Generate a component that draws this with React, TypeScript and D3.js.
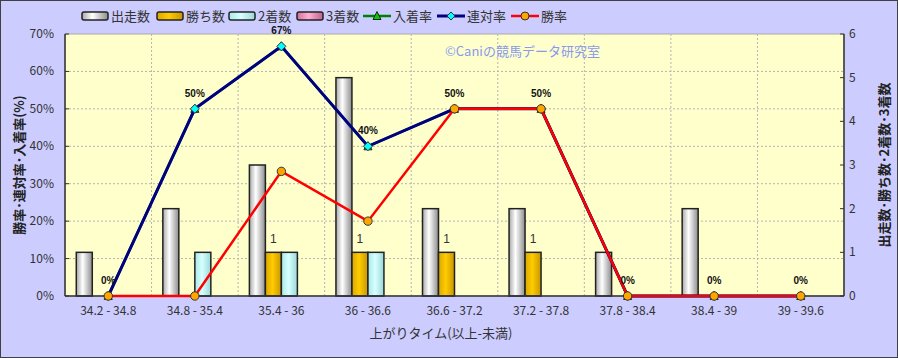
import React from "react";
import * as d3 from "d3";

const categories = ["34.2 - 34.8", "34.8 - 35.4", "35.4 - 36", "36 - 36.6", "36.6 - 37.2", "37.2 - 37.8", "37.8 - 38.4", "38.4 - 39", "39 - 39.6"];
const starts = [1, 2, 3, 5, 2, 2, 1, 2, 0];
const wins = [0, 0, 1, 1, 1, 1, 0, 0, 0];
const seconds = [0, 1, 1, 1, 0, 0, 0, 0, 0];
const thirds = [0, 0, 0, 0, 0, 0, 0, 0, 0];
const placeRate = [0, 50, 66.7, 40, 50, 50, 0, 0, 0];
const quinellaRate = [0, 50, 66.7, 40, 50, 50, 0, 0, 0];
const winRate = [0, 0, 33.3, 20, 50, 50, 0, 0, 0];
const leftTicks = [0, 10, 20, 30, 40, 50, 60, 70];
const rightTicks = [0, 1, 2, 3, 4, 5, 6];

const W = 898, H = 358;
const L = 65, R = 844, T = 34, B = 296;
const FONT = "'Noto Sans CJK JP', 'Liberation Sans', sans-serif";
const TXT = "#333";

const barSeries = [
  { key: "出走数", values: starts, grad: "gGray" },
  { key: "勝ち数", values: wins, grad: "gGold" },
  { key: "2着数", values: seconds, grad: "gCyan" },
  { key: "3着数", values: thirds, grad: "gPink" },
];

export default function App() {
  const x = d3.scaleBand<string>().domain(categories).range([L, R]).padding(0);
  const bw = x.bandwidth();
  const xs = d3.scaleBand<string>().domain(barSeries.map((s) => s.key)).range([bw / 2 - 32, bw / 2 + 32]).padding(0);
  const yL = d3.scaleLinear().domain([0, 70]).range([B, T]);
  const yR = d3.scaleLinear().domain([0, 6]).range([B, T]);
  const cx = (i: number) => (x(categories[i]) as number) + bw / 2;
  const line = (vals: number[]) =>
    d3.line<number>().x((_, i) => cx(i)).y((v) => yL(v))(vals) as string;

  const diamond = (px: number, py: number) => `M${px},${py - 4.5}L${px + 4.5},${py}L${px},${py + 4.5}L${px - 4.5},${py}Z`;
  const tri = (px: number, py: number) => `M${px},${py - 4.5}L${px + 4},${py + 3.5}L${px - 4},${py + 3.5}Z`;

  const legendBars = [
    { key: "出走数", grad: "gGray", x: 82 },
    { key: "勝ち数", grad: "gGold", x: 157 },
    { key: "2着数", grad: "gCyan", x: 229 },
    { key: "3着数", grad: "gPink", x: 297 },
  ];
  const ly = 16;

  return (
    <svg width={W} height={H} style={{ position: "fixed", left: 0, top: 0 }} fontFamily={FONT}>
      <defs>
        <linearGradient id="gGray" x1="0" x2="1" y1="0" y2="0">
          <stop offset="0" stopColor="#a8a8a8" />
          <stop offset="0.4" stopColor="#ffffff" />
          <stop offset="1" stopColor="#8c8c8c" />
        </linearGradient>
        <linearGradient id="gGold" x1="0" x2="1" y1="0" y2="0">
          <stop offset="0" stopColor="#d9a800" />
          <stop offset="0.45" stopColor="#ffcc00" />
          <stop offset="1" stopColor="#c89600" />
        </linearGradient>
        <linearGradient id="gCyan" x1="0" x2="1" y1="0" y2="0">
          <stop offset="0" stopColor="#a8e8e8" />
          <stop offset="0.45" stopColor="#d8ffff" />
          <stop offset="1" stopColor="#9ad8d8" />
        </linearGradient>
        <linearGradient id="gPink" x1="0" x2="1" y1="0" y2="0">
          <stop offset="0" stopColor="#d070a0" />
          <stop offset="0.45" stopColor="#ffb0d0" />
          <stop offset="1" stopColor="#c06090" />
        </linearGradient>
      </defs>
      <rect x={0.5} y={0.5} width={W - 1} height={H - 1} fill="#ccccff" stroke="#404040" strokeWidth={1} />
      <rect x={L} y={T} width={R - L} height={B - T} fill="#ffffcc" stroke="#aaa" strokeWidth={1} />

      {/* horizontal grid */}
      {leftTicks.filter((t) => t > 0 && t < 70).map((t) => (
        <line key={"h" + t} x1={L} x2={R} y1={yL(t)} y2={yL(t)} stroke="#b4b4b4" strokeDasharray="2,2" strokeWidth={1} />
      ))}
      {/* vertical grid */}
      {categories.slice(1).map((c) => (
        <line key={"v" + c} x1={x(c) as number} x2={x(c) as number} y1={T} y2={B} stroke="#b4b4b4" strokeDasharray="2,2" strokeWidth={1} />
      ))}

      {/* watermark */}
      <text x={445} y={56} fontSize={13} fill="#8899ee">©Caniの競馬データ研究室</text>

      {/* bars */}
      {barSeries.map((s) =>
        s.values.map((v, i) =>
          v > 0 ? (
            <rect key={s.key + i} x={(x(categories[i]) as number) + (xs(s.key) as number)} y={yR(v)} width={xs.bandwidth()} height={B - yR(v)} fill={`url(#${s.grad})`} stroke="#222" strokeWidth={1.5} />
          ) : null
        )
      )}
      {/* win count labels */}
      {wins.map((v, i) =>
        v > 0 ? (
          <text key={"wl" + i} x={(x(categories[i]) as number) + (xs("勝ち数") as number) + xs.bandwidth() / 2} y={yR(v) - 9} fontSize={12} fill={TXT} textAnchor="middle" fontFamily="'Liberation Sans', sans-serif">{v}</text>
        ) : null
      )}

      {/* axes */}
      <line x1={L} x2={L} y1={T} y2={B} stroke="#333" strokeWidth={1.5} />
      <line x1={R} x2={R} y1={T} y2={B} stroke="#333" strokeWidth={1.5} />
      <line x1={L} x2={R} y1={B} y2={B} stroke="#333" strokeWidth={1.5} />
      {leftTicks.map((t) => (
        <g key={"lt" + t}>
          <line x1={L} x2={L + 4} y1={yL(t)} y2={yL(t)} stroke="#333" />
          <text x={54} y={yL(t) + 4} fontSize={12} fill={TXT} textAnchor="end">{t}%</text>
        </g>
      ))}
      {rightTicks.map((t) => (
        <g key={"rt" + t}>
          <line x1={R - 4} x2={R} y1={yR(t)} y2={yR(t)} stroke="#333" />
          <text x={849} y={yR(t) + 4} fontSize={12} fill={TXT}>{t}</text>
        </g>
      ))}
      {categories.map((c, i) => (
        <text key={"xl" + c} x={cx(i)} y={315} fontSize={12} fill={TXT} textAnchor="middle">{c}</text>
      ))}

      {/* lines */}
      <path d={line(placeRate)} fill="none" stroke="#008000" strokeWidth={2.5} />
      {placeRate.map((v, i) => (
        <path key={"pm" + i} d={tri(cx(i), yL(v))} fill="#00cc00" stroke="#222" strokeWidth={1} />
      ))}
      <path d={line(quinellaRate)} fill="none" stroke="#000080" strokeWidth={3} />
      {quinellaRate.map((v, i) => (
        <path key={"qm" + i} d={diamond(cx(i), yL(v))} fill="#00ffff" stroke="#333" strokeWidth={1} />
      ))}
      <path d={line(winRate)} fill="none" stroke="#ff0000" strokeWidth={2.5} />
      {winRate.map((v, i) => (
        <circle key={"wm" + i} cx={cx(i)} cy={yL(v)} r={4.2} fill="#ffa500" stroke="#333" strokeWidth={1} />
      ))}
      {quinellaRate.map((v, i) => (
        <text key={"ql" + i} x={cx(i)} y={yL(v) - 12} fontSize={10} fontWeight="bold" fill="#111" textAnchor="middle" fontFamily="'Liberation Sans', sans-serif">{Math.round(v)}%</text>
      ))}

      {/* axis titles */}
      <text transform={`translate(24,${(T + B) / 2}) rotate(-90)`} fontSize={13} fontWeight="bold" fill="#222" textAnchor="middle">勝率･連対率･入着率(%)</text>
      <text transform={`translate(889,${(T + B) / 2}) rotate(-90)`} fontSize={13} fontWeight="bold" fill="#222" textAnchor="middle">出走数･勝ち数･2着数･3着数</text>
      <text x={441} y={338} fontSize={13} fill={TXT} textAnchor="middle">上がりタイム(以上-未満)</text>

      {/* legend */}
      {legendBars.map((lb) => (
        <g key={"lg" + lb.key}>
          <rect x={lb.x} y={ly - 4} width={26} height={8} rx={2} fill={`url(#${lb.grad})`} stroke="#222" strokeWidth={1.5} />
          <text x={lb.x + 29} y={ly + 5} fontSize={13} fill={TXT}>{lb.key}</text>
        </g>
      ))}
      <line x1={363} x2={391} y1={ly} y2={ly} stroke="#008000" strokeWidth={2.5} />
      <path d={tri(377, ly)} fill="#00cc00" stroke="#222" strokeWidth={1} />
      <text x={393} y={ly + 5} fontSize={13} fill={TXT}>入着率</text>
      <line x1={437} x2={465} y1={ly} y2={ly} stroke="#000080" strokeWidth={3} />
      <path d={`M451,${ly - 4}L455,${ly}L451,${ly + 4}L447,${ly}Z`} fill="#00ffff" stroke="#333" strokeWidth={1} />
      <text x={467} y={ly + 5} fontSize={13} fill={TXT}>連対率</text>
      <line x1={511} x2={539} y1={ly} y2={ly} stroke="#ff0000" strokeWidth={2.5} />
      <circle cx={525} cy={ly} r={4} fill="#ffa500" stroke="#333" strokeWidth={1} />
      <text x={541} y={ly + 5} fontSize={13} fill={TXT}>勝率</text>
    </svg>
  );
}
